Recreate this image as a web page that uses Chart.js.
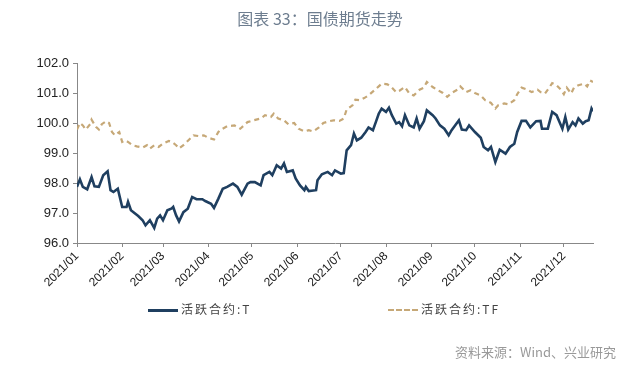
<!DOCTYPE html>
<html>
<head>
<meta charset="utf-8">
<script src="https://cdn.jsdelivr.net/npm/chart.js@4/dist/chart.umd.min.js"></script>
<style>
  body { margin: 0; background: #fff; }
  #wrap { position: relative; width: 640px; height: 370px; overflow: hidden; }
  #chart { position: absolute; left: 0; top: 0; }
  #title { position: absolute; left: 0; width: 640px; top: 6px; text-align: center;
    font: 400 16px "Noto Sans CJK SC", "Noto Sans", sans-serif; color: #6d7d8f; }
  .leg { position: absolute; top: 300px; font: 12px "Noto Sans CJK SC", sans-serif;
    color: #444; letter-spacing: 2px; }
  .leg span.ln { position: absolute; top: 9px; width: 30px; }
  #src { position: absolute; right: 24px; top: 342px; font: 13px "Noto Sans CJK SC", sans-serif; color: #999; }
</style>
</head>
<body>
<div id="wrap">
  <canvas id="chart" width="640" height="370"></canvas>
  <div id="title">图表 33：国债期货走势</div>
  <div class="leg" style="left:148px"><span class="ln" style="left:0;border-top:3px solid #1f3f60"></span><span style="margin-left:33px">活跃合约:T</span></div>
  <div class="leg" style="left:388px"><span class="ln" style="left:0;border-top:2px dashed #c6a877"></span><span style="margin-left:33px">活跃合约:TF</span></div>
  <div id="src">资料来源：Wind、兴业研究</div>
</div>
<script>
'use strict';

// day of year (0 = Jan 1) where each month starts, and its tick label
let monthDays = [0, 31, 59, 90, 120, 151, 181, 212, 243, 273, 304, 334];
let monthLabels = ['2021/01', '2021/02', '2021/03', '2021/04', '2021/05', '2021/06',
  '2021/07', '2021/08', '2021/09', '2021/10', '2021/11', '2021/12'];

// 活跃合约:T  (day of year, price)
let tDays = [0, 2, 4, 7, 10, 12, 15, 18, 21, 23, 25, 28, 31, 34, 35, 37, 42, 45, 47, 50, 53, 55,
  57, 59, 62, 65, 66, 68, 70, 73, 76, 79, 82, 86, 88, 92, 94, 97, 100, 103, 107, 110, 113, 117,
  119, 122, 126, 128, 132, 134, 137, 140, 142, 144, 148, 150, 153, 156, 157, 159, 164, 165, 168,
  172, 175, 177, 181, 183, 185, 188, 190, 192, 195, 198, 200, 203, 205, 207, 209, 212, 214, 216,
  219, 221, 223, 225, 228, 231, 233, 235, 238, 240, 244, 246, 249, 252, 255, 257, 262, 264, 267,
  269, 273, 277, 279, 282, 284, 287, 290, 294, 297, 300, 302, 305, 308, 311, 315, 318, 319, 323,
  326, 329, 333, 335, 337, 340, 342, 344, 347, 349, 351, 353, 354];
let tValues = [97.87, 98.12, 97.87, 97.79, 98.2, 97.89, 97.87, 98.26, 98.39, 97.76, 97.7, 97.81,
  97.2, 97.2, 97.37, 97.09, 96.9, 96.76, 96.59, 96.76, 96.5, 96.81, 96.92, 96.76, 97.09, 97.15,
  97.2, 96.92, 96.72, 97.03, 97.14, 97.53, 97.46, 97.46, 97.4, 97.31, 97.17, 97.48, 97.81, 97.87,
  97.98, 97.87, 97.61, 97.98, 98.03, 98.03, 97.92, 98.26, 98.37, 98.26, 98.59, 98.48, 98.65, 98.37,
  98.42, 98.15, 97.92, 97.76, 97.87, 97.73, 97.76, 98.09, 98.29, 98.37, 98.26, 98.42, 98.31, 98.33,
  99.09, 99.26, 99.65, 99.42, 99.51, 99.7, 99.85, 99.76, 100.03, 100.31, 100.48, 100.37, 100.51,
  100.26, 99.98, 100.03, 99.89, 100.26, 99.92, 99.85, 100.15, 99.81, 100.06, 100.42, 100.26,
  100.15, 99.92, 99.81, 99.59, 99.76, 100.09, 99.78, 99.76, 99.92, 99.7, 99.51, 99.2, 99.09, 99.2,
  98.7, 99.11, 98.98, 99.2, 99.31, 99.7, 100.07, 100.07, 99.85, 100.06, 100.07, 99.81, 99.81,
  100.37, 100.26, 99.81, 100.2, 99.78, 100.03, 99.92, 100.15, 99.98, 100.06, 100.09, 100.48, 100.39];

// 活跃合约:TF  (day of year, price)
let tfDays = [0, 2, 4, 6, 9, 10, 13, 15, 17, 20, 22, 24, 26, 29, 31, 33, 35, 38, 41, 45, 48, 50,
  53, 56, 59, 63, 65, 68, 70, 73, 77, 80, 84, 87, 90, 94, 97, 98, 103, 108, 112, 117, 121, 126,
  129, 133, 135, 138, 142, 145, 149, 152, 156, 159, 162, 166, 169, 173, 176, 180, 183, 185, 189,
  191, 194, 197, 200, 204, 207, 209, 213, 216, 219, 221, 225, 228, 231, 235, 238, 240, 244, 247,
  251, 254, 257, 261, 263, 267, 270, 273, 277, 280, 284, 287, 289, 293, 296, 300, 302, 305, 309,
  312, 316, 318, 321, 324, 326, 329, 332, 334, 336, 339, 341, 344, 348, 350, 352, 354];
let tfValues = [99.78, 100.0, 99.92, 99.78, 99.96, 100.11, 99.87, 99.78, 99.96, 100.06, 100.0,
  99.7, 99.59, 99.7, 99.37, 99.42, 99.37, 99.26, 99.22, 99.18, 99.26, 99.15, 99.26, 99.2, 99.31,
  99.4, 99.37, 99.26, 99.15, 99.26, 99.45, 99.59, 99.56, 99.59, 99.51, 99.45, 99.7, 99.76, 99.89,
  99.92, 99.81, 100.03, 100.09, 100.15, 100.26, 100.2, 100.31, 100.15, 100.09, 99.96, 100.0, 99.81,
  99.72, 99.76, 99.72, 99.85, 100.0, 100.06, 100.09, 100.07, 100.15, 100.45, 100.59, 100.78,
  100.76, 100.83, 100.92, 101.09, 101.22, 101.31, 101.29, 101.18, 101.03, 101.07, 101.2, 100.98,
  100.92, 101.11, 101.18, 101.37, 101.2, 101.11, 101.0, 100.87, 101.0, 101.11, 101.22, 101.03,
  101.09, 101.0, 100.92, 100.76, 100.67, 100.48, 100.59, 100.65, 100.62, 100.76, 100.96, 101.18,
  101.11, 101.03, 101.11, 101.03, 100.98, 101.18, 101.33, 101.26, 101.11, 100.96, 101.18, 100.98,
  101.18, 101.26, 101.31, 101.22, 101.42, 101.37];

function toPoints(days, values) {
  let pts = [];
  for (let i = 0; i < days.length; i++) {
    pts.push({ x: days[i], y: values[i] });
  }
  return pts;
}

let ctx = document.getElementById('chart').getContext('2d');

let chart = new Chart(ctx, {
  type: 'line',
  data: {
    datasets: [
      {
        label: '活跃合约:T',
        data: toPoints(tDays, tValues),
        borderColor: '#1f3f60',
        borderWidth: 2.6,
        pointRadius: 0,
        tension: 0
      },
      {
        label: '活跃合约:TF',
        data: toPoints(tfDays, tfValues),
        borderColor: '#c6a877',
        borderWidth: 2.2,
        borderDash: [5, 4],
        pointRadius: 0,
        tension: 0
      }
    ]
  },
  options: {
    responsive: false,
    animation: false,
    layout: { padding: { left: 0, right: 47, top: 63, bottom: 0 } },
    plugins: {
      legend: { display: false },
      tooltip: { enabled: false }
    },
    scales: {
      x: {
        type: 'linear',
        min: 0,
        max: 354,
        afterBuildTicks: function (scale) {
          scale.ticks = monthDays.map(function (d) { return { value: d }; });
        },
        afterFit: function (scale) { scale.height = 127; },
        ticks: {
          autoSkip: false,
          minRotation: 45,
          maxRotation: 45,
          padding: 2,
          color: '#222',
          font: { family: 'Liberation Sans', size: 12 },
          callback: function (value, index) { return monthLabels[index]; }
        },
        grid: { drawOnChartArea: false, drawTicks: true, tickLength: 4, color: '#888' },
        border: { color: '#888', width: 1 }
      },
      y: {
        min: 96,
        max: 102,
        afterFit: function (scale) { scale.width = 77; },
        ticks: {
          stepSize: 1,
          padding: 4,
          color: '#222',
          font: { family: 'Liberation Sans', size: 13 },
          callback: function (v) { return v.toFixed(1); }
        },
        grid: { drawOnChartArea: false, drawTicks: true, tickLength: 4, color: '#888' },
        border: { color: '#888', width: 1 }
      }
    }
  }
});
</script>
</body>
</html>
